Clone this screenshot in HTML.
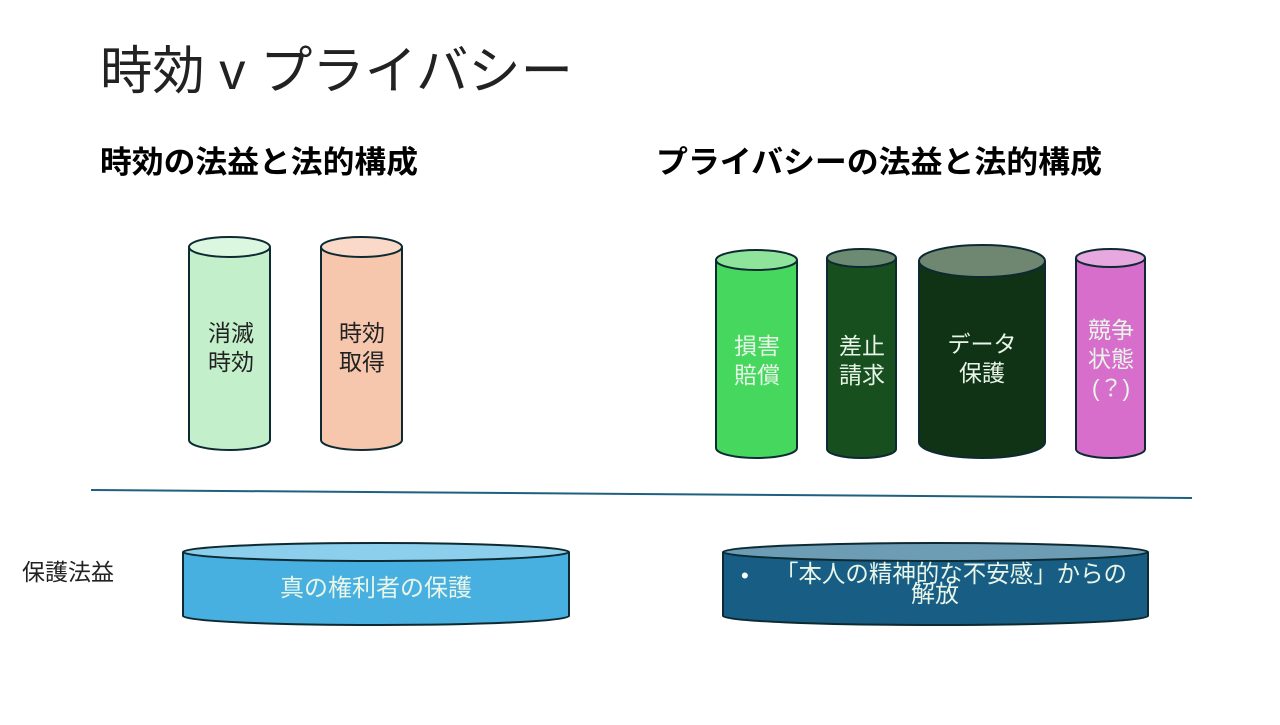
<!DOCTYPE html><html><head><meta charset="utf-8"><style>body{margin:0;width:1280px;height:720px;background:#fff;overflow:hidden}svg text{font-family:"Liberation Sans","Noto Sans CJK JP",sans-serif}</style></head><body>
<svg width="1280" height="720" viewBox="0 0 1280 720">
<text x="100" y="89" font-size="52" fill="#222" textLength="473" lengthAdjust="spacingAndGlyphs">時効 v プライバシー</text>
<text x="100" y="173" font-size="31" font-weight="bold" fill="#000" textLength="318" lengthAdjust="spacingAndGlyphs">時効の法益と法的構成</text>
<text x="656" y="173" font-size="31" font-weight="bold" fill="#000" textLength="446" lengthAdjust="spacingAndGlyphs">プライバシーの法益と法的構成</text>
<g stroke="#0d2a33" stroke-width="2">
<path d="M189 247 V440 A40.5 10 0 0 0 270 440 V247" fill="#c3f0cb"/><ellipse cx="229.5" cy="247" rx="40.5" ry="10" fill="#dcf7e0"/>
<path d="M321 247 V440 A40.5 10 0 0 0 402 440 V247" fill="#f6c6ad"/><ellipse cx="361.5" cy="247" rx="40.5" ry="10" fill="#fad9c8"/>
<path d="M716 260 V448 A40.5 10 0 0 0 797 448 V260" fill="#45d75e"/><ellipse cx="756.5" cy="260" rx="40.5" ry="10" fill="#8fe49c"/>
<path d="M827 258 V449 A34.5 9 0 0 0 896 449 V258" fill="#174f1f"/><ellipse cx="861.5" cy="258" rx="34.5" ry="9" fill="#6c8b72"/>
<path d="M919 261 V442 A63 16 0 0 0 1045 442 V261" fill="#0f3314"/><ellipse cx="982" cy="261" rx="63" ry="16" fill="#6f8770"/>
<path d="M1076 258 V449 A34.5 9 0 0 0 1145 449 V258" fill="#d86ecc"/><ellipse cx="1110.5" cy="258" rx="34.5" ry="9" fill="#e6a8df"/>
<path d="M183 552 V616 A193 9 0 0 0 569 616 V552" fill="#47b0e0"/><ellipse cx="376" cy="552" rx="193" ry="9" fill="#8ccfec"/>
<path d="M723 552 V616 A212.5 9 0 0 0 1148 616 V552" fill="#175d84"/><ellipse cx="935.5" cy="552" rx="212.5" ry="9" fill="#6d9db5"/>
</g>
<line x1="91" y1="490" x2="1192" y2="498" stroke="#1f5f7f" stroke-width="2"/>
<g font-size="23" text-anchor="middle">
<text x="231" y="341" fill="#222">消滅</text><text x="231" y="370" fill="#222">時効</text>
<text x="362" y="341" fill="#222">時効</text><text x="362" y="370" fill="#222">取得</text>
<g fill="#e8f5e8"><text x="757" y="354">損害</text><text x="757" y="383">賠償</text>
<text x="862" y="354">差止</text><text x="862" y="383">請求</text>
<text x="982" y="352">データ</text><text x="982" y="381">保護</text>
<text x="1111" y="338">競争</text><text x="1111" y="367">状態</text><text x="1111" y="396">(？)</text>
<text x="376" y="596" font-size="24">真の権利者の保護</text>
<text x="951" y="582" font-size="24" textLength="352" lengthAdjust="spacingAndGlyphs">「本人の精神的な不安感」からの</text><text x="935" y="602" font-size="24">解放</text></g>
</g>
<text x="741" y="583" font-size="22" fill="#fff">•</text>
<text x="22" y="580" font-size="23" fill="#222">保護法益</text>
</svg></body></html>
